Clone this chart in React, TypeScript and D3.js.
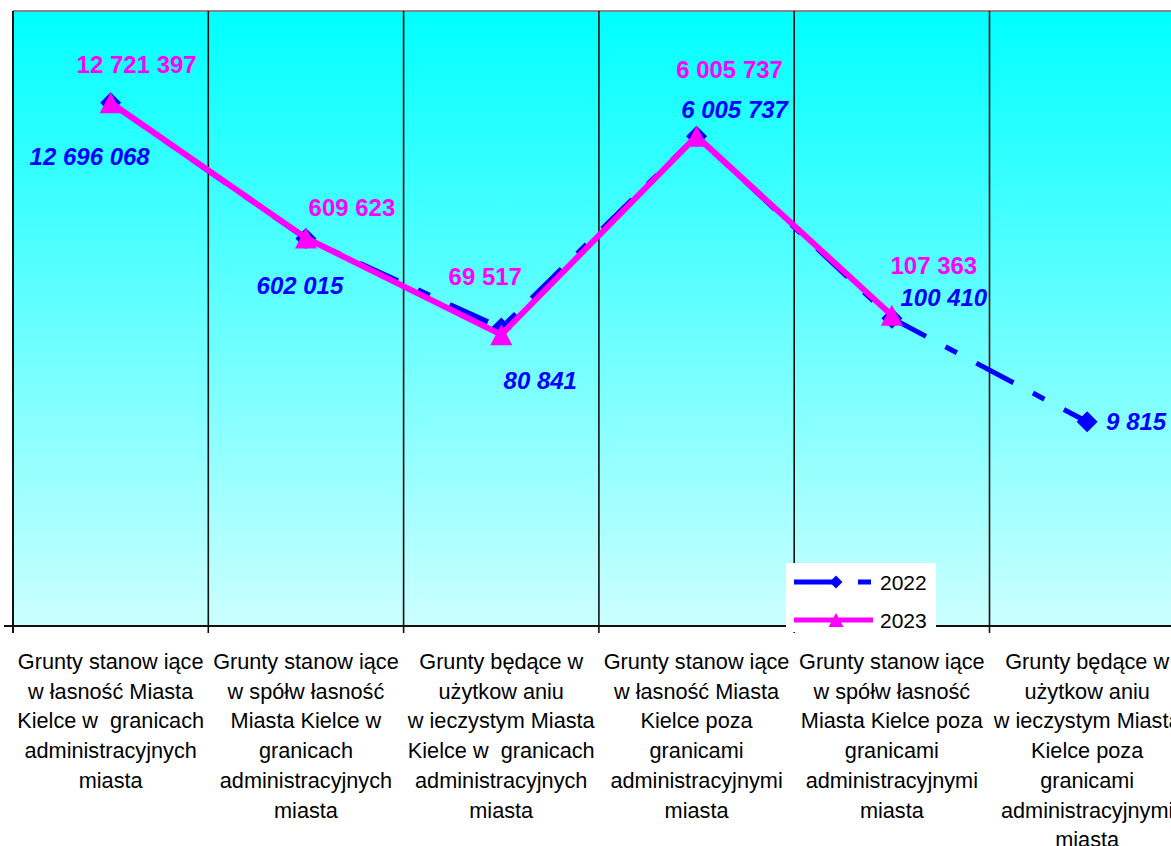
import React from "react";
import * as d3 from "d3";

const categories: string[][] = [
  ["Grunty stanow iące", "w łasność Miasta", "Kielce w  granicach", "administracyjnych", "miasta"],
  ["Grunty stanow iące", "w spółw łasność", "Miasta Kielce w", "granicach", "administracyjnych", "miasta"],
  ["Grunty będące w", "użytkow aniu", "w ieczystym Miasta", "Kielce w  granicach", "administracyjnych", "miasta"],
  ["Grunty stanow iące", "w łasność Miasta", "Kielce poza", "granicami", "administracyjnymi", "miasta"],
  ["Grunty stanow iące", "w spółw łasność", "Miasta Kielce poza", "granicami", "administracyjnymi", "miasta"],
  ["Grunty będące w", "użytkow aniu", "w ieczystym Miasta", "Kielce poza", "granicami", "administracyjnymi", "miasta"],
];

const values2022: number[] = [12696068, 602015, 80841, 6005737, 100410, 9815];
const values2023: (number | null)[] = [12721397, 609623, 69517, 6005737, 107363, null];

// label placement offsets relative to each point (layout only)
const offsets2022: [number, number][] = [[-21, 54], [-6, 47], [39, 53], [38, -27], [52, -21], [49, 0]];
const offsets2023: [number, number][] = [[26, -38], [46, -31], [-16, -58], [33, -67], [42, -50], [0, 0]];

const W = 1171;
const H = 846;
const plotLeft = 13;
const plotTop = 11;
const plotBottom = 626;
const catWidth = 195.3;

const fmt = (v: number) => d3.format(",")(v).replace(/,/g, " ");

export default function App() {
  const x = d3
    .scaleBand<number>()
    .domain(categories.map((_, i) => i))
    .range([plotLeft, plotLeft + catWidth * categories.length])
    .paddingInner(0)
    .paddingOuter(0);
  const y = d3.scaleLog().domain([100, 1e8]).range([plotBottom, plotTop]);
  const cx = (i: number) => (x(i) as number) + x.bandwidth() / 2;

  const line = d3
    .line<[number, number]>()
    .x((d) => d[0])
    .y((d) => d[1]);

  const pts2022: [number, number][] = values2022.map((v, i) => [cx(i), y(v)]);
  const pts2023: [number, number][] = values2023
    .map((v, i) => (v == null ? null : ([cx(i), y(v)] as [number, number])))
    .filter((p): p is [number, number] => p !== null);

  const diamond = (px: number, py: number, r: number) =>
    `M${px},${py - r}L${px + r},${py}L${px},${py + r}L${px - r},${py}Z`;
  const triangle = (px: number, py: number, w: number, h: number) =>
    `M${px},${py - h / 2}L${px + w / 2},${py + h / 2}L${px - w / 2},${py + h / 2}Z`;

  const boundaries = d3.range(categories.length + 1).map((i) => plotLeft + i * x.bandwidth());
  const font = "'Liberation Sans', Arial, sans-serif";
  const dash = "42,22,13,22";

  return (
    <svg
      width={W}
      height={H}
      style={{ position: "absolute", left: 0, top: 0, background: "#fff" }}
      fontFamily={font}
    >
      <defs>
        <linearGradient id="bg" x1="0" y1="0" x2="0" y2="1">
          <stop offset="0%" stopColor="#00FFFF" />
          <stop offset="100%" stopColor="#CCFFFF" />
        </linearGradient>
      </defs>
      <rect x={plotLeft} y={plotTop} width={W - plotLeft} height={plotBottom - plotTop} fill="url(#bg)" />
      <line x1={plotLeft} x2={W} y1={plotTop} y2={plotTop} stroke="#888" strokeWidth={2} />
      {boundaries.map((bx, i) => (
        <line
          key={i}
          x1={bx}
          x2={bx}
          y1={plotTop}
          y2={plotBottom + 7}
          stroke="#111"
          strokeWidth={i === 0 ? 2 : 1.6}
        />
      ))}
      <line x1={4} x2={W} y1={plotBottom} y2={plotBottom} stroke="#111" strokeWidth={2} />

      {/* series lines */}
      <path d={line(pts2022) || ""} fill="none" stroke="#0000FF" strokeWidth={5} strokeDasharray={dash} />
      {pts2022.map((p, i) => (
        <path key={i} d={diamond(p[0], p[1], 10.5)} fill="#0000FF" />
      ))}
      <path d={line(pts2023) || ""} fill="none" stroke="#FF00FF" strokeWidth={6} />
      {pts2023.map((p, i) => (
        <path key={i} d={triangle(p[0], p[1], 22, 21)} fill="#FF00FF" />
      ))}

      {/* data labels */}
      {values2023.map((v, i) =>
        v == null ? null : (
          <text
            key={i}
            x={cx(i) + offsets2023[i][0]}
            y={y(v) + offsets2023[i][1]}
            textAnchor="middle"
            dominantBaseline="central"
            fontSize={24}
            fontWeight="bold"
            fill="#FF00FF"
          >
            {fmt(v)}
          </text>
        )
      )}
      {values2022.map((v, i) => (
        <text
          key={i}
          x={cx(i) + offsets2022[i][0]}
          y={y(v) + offsets2022[i][1]}
          textAnchor="middle"
          dominantBaseline="central"
          fontSize={24}
          fontWeight="bold"
          fontStyle="italic"
          fill="#0000FF"
        >
          {fmt(v)}
        </text>
      ))}

      {/* category labels */}
      {categories.map((lines, i) => (
        <text key={i} textAnchor="middle" fontSize={21.7} fill="#000">
          {lines.map((l, j) => (
            <tspan key={j} x={cx(i)} y={669 + j * 29.7} style={{ whiteSpace: "pre" }}>
              {l}
            </tspan>
          ))}
        </text>
      ))}

      {/* legend */}
      <g>
        <rect x={786} y={563} width={150} height={69} fill="#fff" />
        <line x1={794} x2={873} y1={582} y2={582} stroke="#0000FF" strokeWidth={5} strokeDasharray={dash} />
        <path d={diamond(836, 582, 6.5)} fill="#0000FF" />
        <text x={880} y={590} fontSize={21} fill="#000">2022</text>
        <line x1={794} x2={873} y1={620} y2={620} stroke="#FF00FF" strokeWidth={5} />
        <path d={triangle(836, 620, 15, 14)} fill="#FF00FF" />
        <text x={880} y={628} fontSize={21} fill="#000">2023</text>
      </g>
    </svg>
  );
}
